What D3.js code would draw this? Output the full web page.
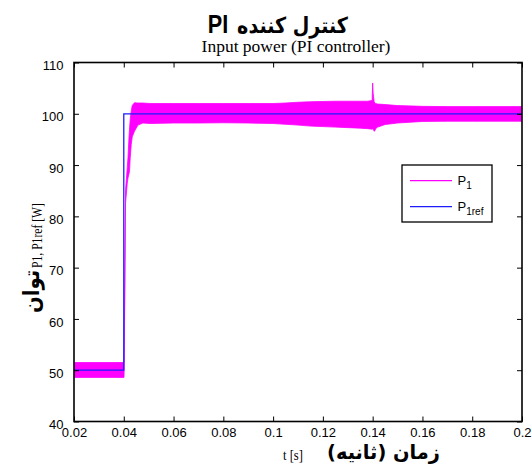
<!DOCTYPE html>
<html>
<head>
<meta charset="utf-8">
<script src="https://cdn.jsdelivr.net/npm/d3@7"></script>
<style>
  html, body { margin: 0; padding: 0; background: #ffffff; }
  svg { display: block; }
</style>
</head>
<body>
<svg id="chart" width="532" height="466"></svg>
<script>
// ---- data ----
const xTicks = [0.02, 0.04, 0.06, 0.08, 0.1, 0.12, 0.14, 0.16, 0.18, 0.2];
const xTickLabels = ["0.02", "0.04", "0.06", "0.08", "0.1", "0.12", "0.14", "0.16", "0.18", "0.2"];
const yTicks = [40, 50, 60, 70, 80, 90, 100, 110];
const yTickLabels = ["40", "50", "60", "70", "80", "90", "100", "110"];

// P1 (oscillating) drawn as its envelope
const envT = [0.0200, 0.0400, 0.0401, 0.04015, 0.0407, 0.0414, 0.0417, 0.0421, 0.0423, 0.0426, 0.0430, 0.0434, 0.0443, 0.0457, 0.0477, 0.0505, 0.0600, 0.0700, 0.0800, 0.0900, 0.1000, 0.1050, 0.1100, 0.1150, 0.1200, 0.1250, 0.1300, 0.1350, 0.1380, 0.1398, 0.1400, 0.1402, 0.1406, 0.1409, 0.1412, 0.1420, 0.1450, 0.1500, 0.1600, 0.1700, 0.1800, 0.1900, 0.2000];
const envUpper = [51.5, 51.5, 51.5, 53.0, 85.0, 89.5, 91.5, 95.5, 97.0, 99.0, 100.5, 101.6, 102.15, 102.1, 102.1, 102.0, 102.0, 102.0, 102.0, 102.0, 102.0, 102.1, 102.25, 102.35, 102.4, 102.45, 102.45, 102.45, 102.45, 102.6, 106.0, 104.0, 102.3, 102.1, 102.0, 101.9, 101.8, 101.6, 101.45, 101.4, 101.4, 101.4, 101.4];
const envLower = [48.6, 48.6, 48.6, 50.0, 82.5, 86.5, 87.5, 88.3, 88.8, 91.5, 94.0, 95.5, 96.6, 97.8, 98.2, 98.1, 98.2, 98.2, 98.25, 98.2, 98.1, 97.95, 97.8, 97.6, 97.5, 97.4, 97.3, 97.2, 97.1, 97.0, 97.2, 97.0, 96.6, 96.7, 97.1, 97.4, 97.9, 98.2, 98.5, 98.55, 98.55, 98.55, 98.55];

// P1ref step
const refT = [0.02, 0.04, 0.04, 0.2];
const refV = [50, 50, 100, 100];

const legendLabels = [{ main: "P", sub: "1" }, { main: "P", sub: "1ref" }];
const seriesColors = ["#ff00ff", "#1c1cff"];

// ---- layout ----
const L = 74, R = 522, T = 62.5, B = 421.5;
const svg = d3.select("#chart");
svg.append("rect").attr("width", 532).attr("height", 466).attr("fill", "#ffffff");

const x = d3.scaleLinear().domain([0.02, 0.2]).range([L, R]);
const y = d3.scaleLinear().domain([40, 110]).range([B, T]);

const plot = svg.append("g");
plot.append("clipPath").attr("id", "clip").append("rect")
  .attr("x", L).attr("y", T).attr("width", R - L).attr("height", B - T);

const envData = envT.map((t, i) => ({ t, hi: envUpper[i], lo: envLower[i] }));
plot.append("path")
  .attr("clip-path", "url(#clip)")
  .attr("d", d3.area().x(d => x(d.t)).y0(d => y(d.lo)).y1(d => y(d.hi))(envData))
  .attr("fill", seriesColors[0])
  .attr("stroke", seriesColors[0])
  .attr("stroke-width", 0.8);

const refData = refT.map((t, i) => ({ t, v: refV[i] }));
plot.append("path")
  .attr("clip-path", "url(#clip)")
  .attr("d", d3.line().x(d => x(d.t)).y(d => y(d.v))(refData))
  .attr("fill", "none")
  .attr("stroke", seriesColors[1])
  .attr("stroke-width", 1.3);

// ---- axes ----
const tickFont = "'Liberation Sans', Arial, sans-serif";
const xAxis = svg.append("g").attr("transform", `translate(0,${B})`)
  .call(d3.axisBottom(x).tickValues(xTicks).tickFormat((d, i) => xTickLabels[i]).tickSize(-5).tickSizeOuter(0).tickPadding(6));
const yAxis = svg.append("g").attr("transform", `translate(${L},0)`)
  .call(d3.axisLeft(y).tickValues(yTicks).tickFormat((d, i) => yTickLabels[i]).tickSize(-5).tickSizeOuter(0).tickPadding(10.5));
const xTop = svg.append("g").attr("transform", `translate(0,${T})`)
  .call(d3.axisTop(x).tickValues(xTicks).tickFormat("").tickSize(-5).tickSizeOuter(0));
const yRight = svg.append("g").attr("transform", `translate(${R},0)`)
  .call(d3.axisRight(y).tickValues(yTicks).tickFormat("").tickSize(-5).tickSizeOuter(0));

[xAxis, yAxis, xTop, yRight].forEach(g => {
  g.select(".domain").remove();
  g.selectAll(".tick line").attr("stroke", "#000").attr("stroke-width", 1);
  g.selectAll("text").attr("font-family", tickFont).attr("font-size", 13).attr("fill", "#000");
});
yAxis.selectAll("text").attr("dy", "0.55em");

svg.append("rect").attr("x", L).attr("y", T).attr("width", R - L).attr("height", B - T)
  .attr("fill", "none").attr("stroke", "#000").attr("stroke-width", 1.6);

// ---- legend ----
const lg = svg.append("g");
lg.append("rect").attr("x", 402).attr("y", 165).attr("width", 90).attr("height", 57)
  .attr("fill", "#fff").attr("stroke", "#000").attr("stroke-width", 1.3);
legendLabels.forEach((lab, i) => {
  const ly = 180.7 + i * 26;
  lg.append("line").attr("x1", 410).attr("x2", 452).attr("y1", ly).attr("y2", ly)
    .attr("stroke", seriesColors[i]).attr("stroke-width", 1.2);
  const tx = lg.append("text").attr("x", 457.5).attr("y", ly + 4.5)
    .attr("font-family", tickFont).attr("font-size", 13).attr("fill", "#000");
  tx.append("tspan").text(lab.main);
  tx.append("tspan").attr("dy", 4).attr("font-size", 10).text(lab.sub);
});

// ---- titles (fitted to the reference widths) ----
const arabicFont = "'DejaVu Sans', sans-serif";
const serif = "'Liberation Serif', 'Times New Roman', serif";

// place a text centred at (cx, baseline by) with horizontal width w; rot = rotate angle
function fitText(str, cx, by, w, font, size, weight, rot) {
  const t = svg.append("text").attr("text-anchor", "middle")
    .attr("font-family", font).attr("font-size", size).attr("font-weight", weight || "normal")
    .attr("fill", "#000").text(str);
  const bw = t.node().getBBox().width || w;
  const s = w / bw;
  t.attr("transform", `translate(${cx},${by}) rotate(${rot || 0}) scale(${s},1)`);
  return t;
}

fitText("کنترل کننده", 292.5, 33, 111, arabicFont, 22, "bold");
fitText("PI", 218, 33, 20.5, tickFont, 25, "bold");
fitText("Input power (PI controller)", 296, 51.5, 189, serif, 17);

// x label
fitText("t [s]", 293, 460, 20, serif, 15.5);
fitText("زمان (ثانیه)", 383.5, 459, 113, arabicFont, 20, "bold");

// y label
fitText("P1, P1ref [W]", 235.5, 0, 65, serif, 15, "normal", 0)
  .attr("transform", null);
svg.selectAll("text").filter(function () { return d3.select(this).text() === "P1, P1ref [W]"; }).remove();

(function () {
  const t = svg.append("text").attr("text-anchor", "middle")
    .attr("font-family", serif).attr("font-size", 15).attr("fill", "#000").text("P1, P1ref [W]");
  const s = 65 / t.node().getBBox().width;
  t.attr("transform", `translate(42,235.5) rotate(-90) scale(${s},1)`);
  const u = svg.append("text").attr("text-anchor", "middle")
    .attr("font-family", arabicFont).attr("font-weight", "bold").attr("font-size", 22).attr("fill", "#000").text("توان");
  const s2 = 43 / u.node().getBBox().width;
  u.attr("transform", `translate(39,291.5) rotate(-90) scale(${s2},1)`);
})();
</script>
</body>
</html>
